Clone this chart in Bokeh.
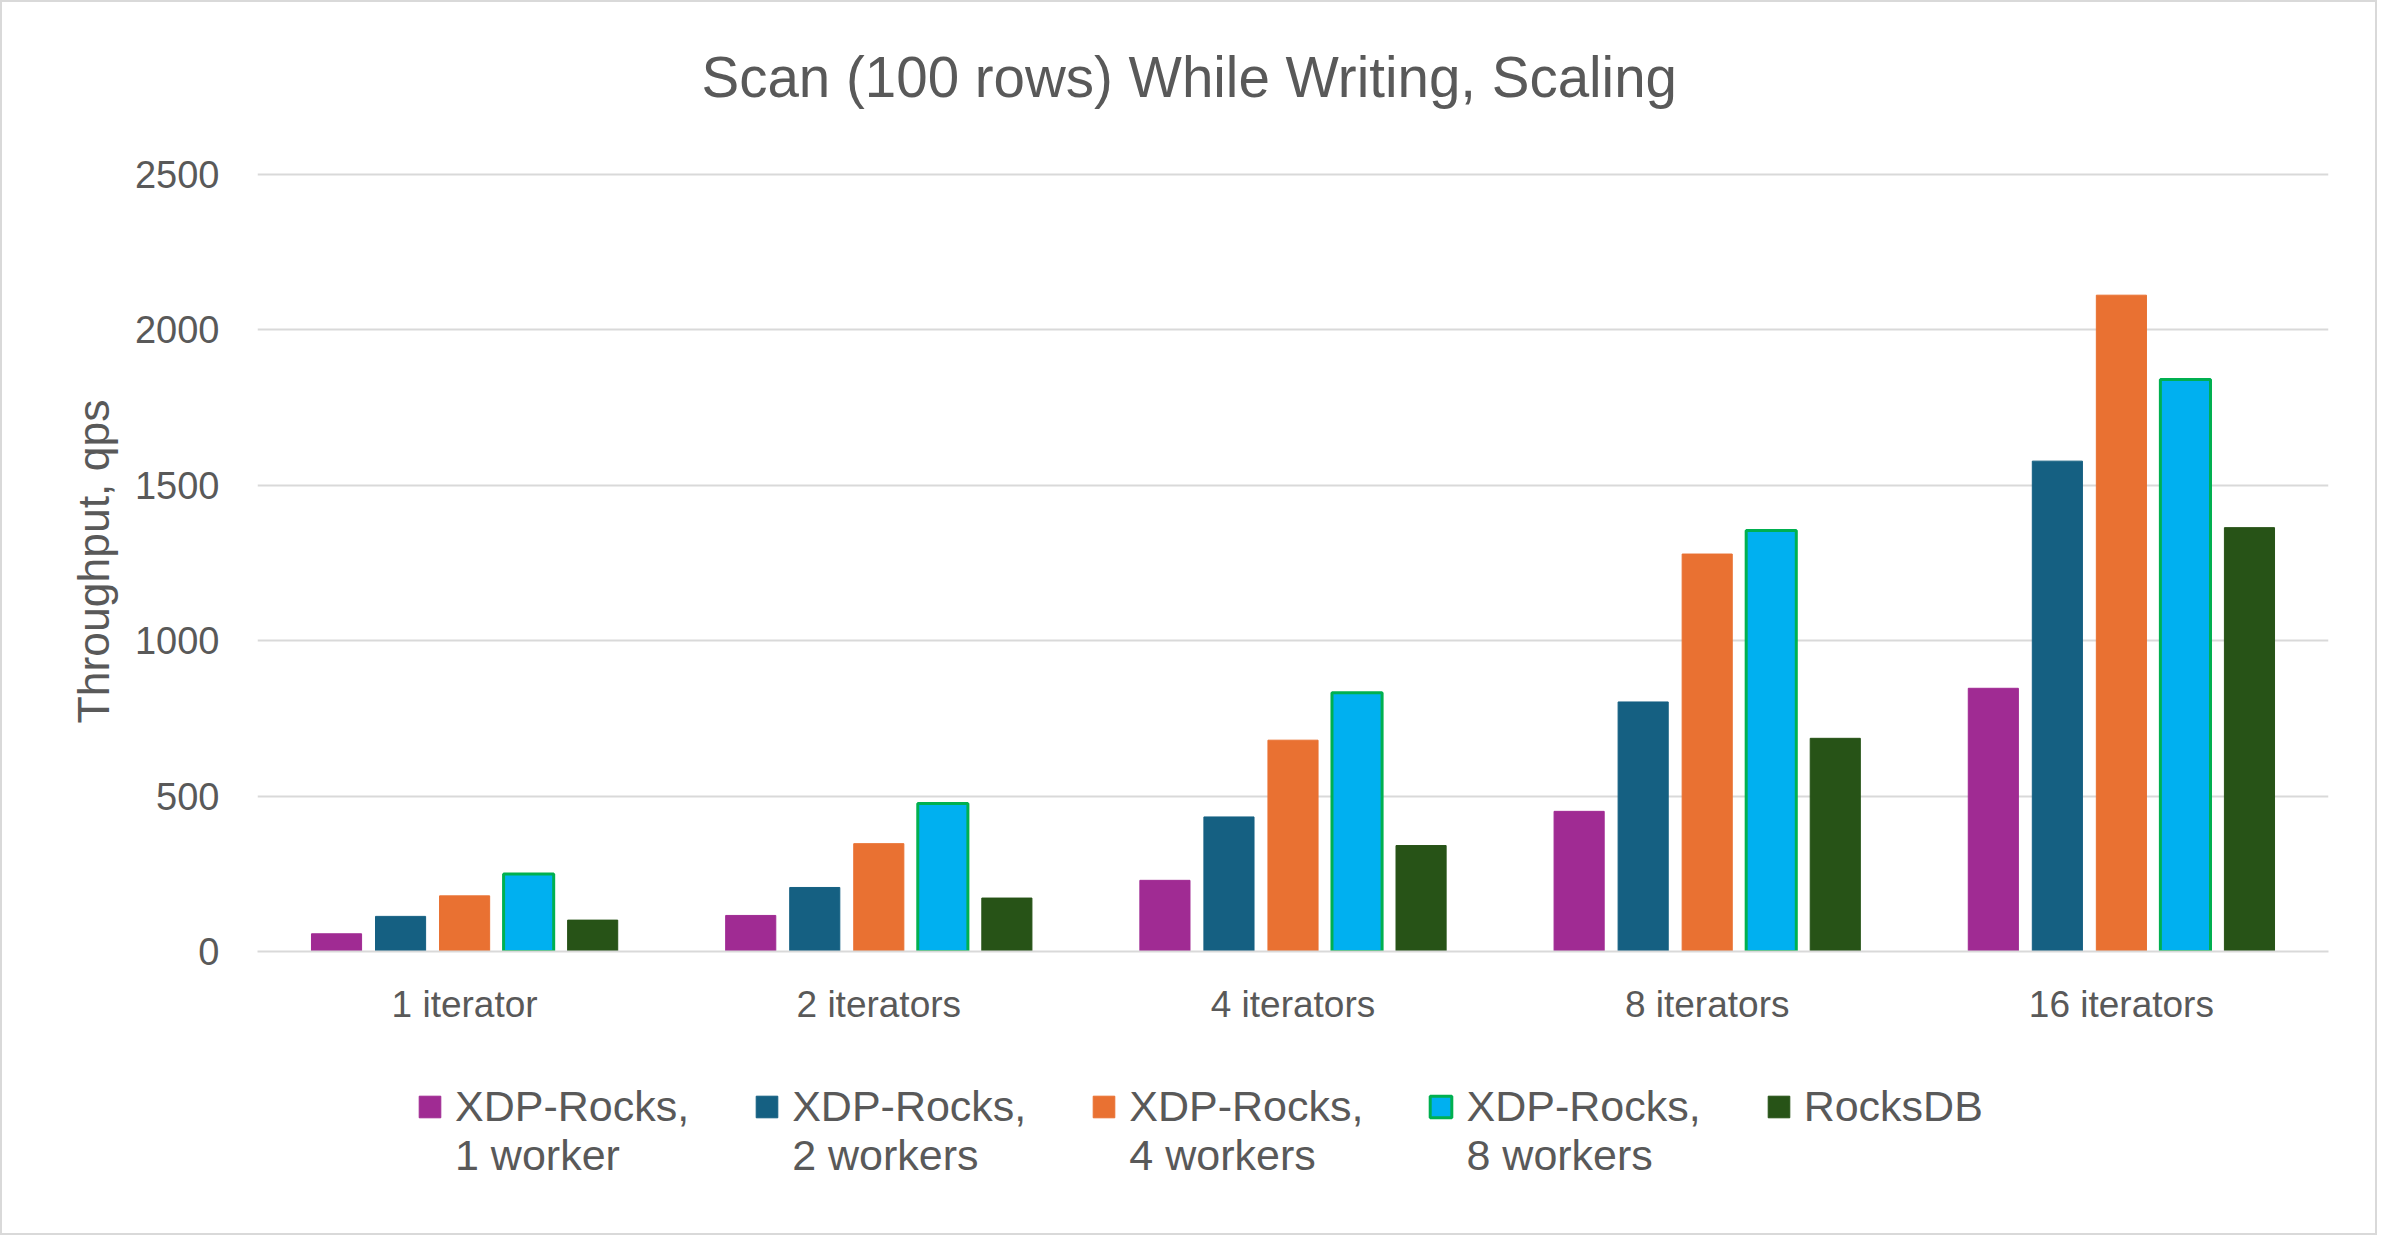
from bokeh.plotting import figure
from bokeh.layouts import column
from bokeh.models import (FactorRange, Range1d, FixedTicker, Legend, LegendItem,
                          ColumnDataSource, Title)
from bokeh.transform import dodge
from bokeh.embed import file_html
from bokeh.resources import INLINE

# ---- data ----
categories = ["1 iterator", "2 iterators", "4 iterators", "8 iterators", "16 iterators"]
xdp_1_worker = [57, 116, 229, 451, 847]
xdp_2_workers = [113, 206, 433, 803, 1578]
xdp_4_workers = [179, 347, 680, 1279, 2112]
xdp_8_workers = [249, 476, 833, 1355, 1841]
rocksdb = [101, 172, 341, 686, 1364]

# legend labels (first blank line keeps the swatch level with the first text line)
series_names = [" \nXDP-Rocks,\n1 worker", " \nXDP-Rocks,\n2 workers",
                " \nXDP-Rocks,\n4 workers", " \nXDP-Rocks,\n8 workers",
                " \nRocksDB\n "]
y_ticks = [0, 500, 1000, 1500, 2000, 2500]

# ---- style ----
FONT = "Liberation Sans"
TXT = "#595959"
GRID = "#D9D9D9"
fills = ["#A02B93", "#156082", "#E97132", "#00B0F0", "#275317"]
lines = ["#A02B93", "#156082", "#E97132", "#00B050", "#275317"]
lwidths = [1, 1, 1, 3, 1]
keys = ["s0", "s1", "s2", "s3", "s4"]

src = ColumnDataSource(dict(cat=categories, s0=xdp_1_worker, s1=xdp_2_workers,
                            s2=xdp_4_workers, s3=xdp_8_workers, s4=rocksdb))

xr = FactorRange(*categories, range_padding=0)
p = figure(width=2377, height=1025, x_range=xr,
           y_range=Range1d(0, 2510), output_backend="svg", toolbar_location=None,
           min_border_left=255, min_border_right=51, min_border_top=167,
           min_border_bottom=75)
p.styles = {"border": "2px solid #D9D9D9", "border-bottom": "none"}
p.outline_line_color = None
p.background_fill_color = "white"
p.border_fill_color = "white"

step = 0.1546
bw = 0.121
for i, key in enumerate(keys):
    p.vbar(x=dodge("cat", (i - 2) * step, range=xr), top=key, width=bw,
           source=src, fill_color=fills[i], line_color=lines[i], line_width=lwidths[i])

# spacer between frame and title, then the title itself
spacer = Title(text=" ", text_font=FONT, text_font_size="1px", standoff=19)
p.add_layout(spacer, "above")
t = Title(text="Scan (100 rows) While Writing, Scaling", align="left", offset=444,
          text_font=FONT, text_font_size="56.5px", text_color=TXT,
          text_font_style="normal", standoff=82)
p.add_layout(t, "above")

# axes
p.yaxis.ticker = FixedTicker(ticks=y_ticks)
p.yaxis.axis_line_color = None
p.yaxis.major_tick_line_color = None
p.yaxis.minor_tick_line_color = None
p.yaxis.major_label_text_font = FONT
p.yaxis.major_label_text_font_size = "38px"
p.yaxis.major_label_text_color = TXT
p.yaxis.major_label_standoff = 32
p.yaxis.axis_label = "Throughput, qps"
p.yaxis.axis_label_text_font = FONT
p.yaxis.axis_label_text_font_size = "44.5px"
p.yaxis.axis_label_text_font_style = "normal"
p.yaxis.axis_label_text_color = TXT
p.yaxis.axis_label_standoff = 14

p.xaxis.axis_line_color = GRID
p.xaxis.axis_line_width = 2
p.xaxis.major_tick_line_color = None
p.xaxis.minor_tick_line_color = None
p.xaxis.major_label_text_font = FONT
p.xaxis.major_label_text_font_size = "37px"
p.xaxis.major_label_text_color = TXT
p.xaxis.major_label_standoff = 26

p.xgrid.grid_line_color = None
p.ygrid.grid_line_color = GRID
p.ygrid.grid_line_width = 2

# ---- legend strip (same series, renderers hidden; only the legend shows) ----
lg = figure(width=2377, height=210, x_range=xr, y_range=Range1d(-3000, -2990),
            output_backend="svg", toolbar_location=None,
            min_border_left=0, min_border_right=0, min_border_top=0,
            min_border_bottom=0)
lg.styles = {"border": "2px solid #D9D9D9", "border-top": "none"}
lg.outline_line_color = None
lg.axis.visible = False
lg.grid.visible = False
lg.background_fill_color = "white"
lg.border_fill_color = "white"
leg_renderers = []
for i, key in enumerate(keys):
    r = lg.vbar(x=dodge("cat", (i - 2) * step, range=xr), top=key, width=bw,
                source=src, fill_color=fills[i], line_color=lines[i],
                line_width=lwidths[i], visible=False)
    leg_renderers.append(r)

legend = Legend(items=[LegendItem(label=series_names[i], renderers=[leg_renderers[i]])
                       for i in range(5)],
                orientation="horizontal", location=(159, 55),
                label_text_font=FONT, label_text_font_size="43px",
                label_text_color=TXT,
                glyph_width=27, glyph_height=27, label_standoff=12, spacing=64,
                padding=0, margin=0, border_line_color=None,
                background_fill_alpha=0, inactive_fill_alpha=0)
lg.add_layout(legend, "center")

layout = column(p, lg, spacing=0)
open("out.html", "w").write(file_html(layout, INLINE))
